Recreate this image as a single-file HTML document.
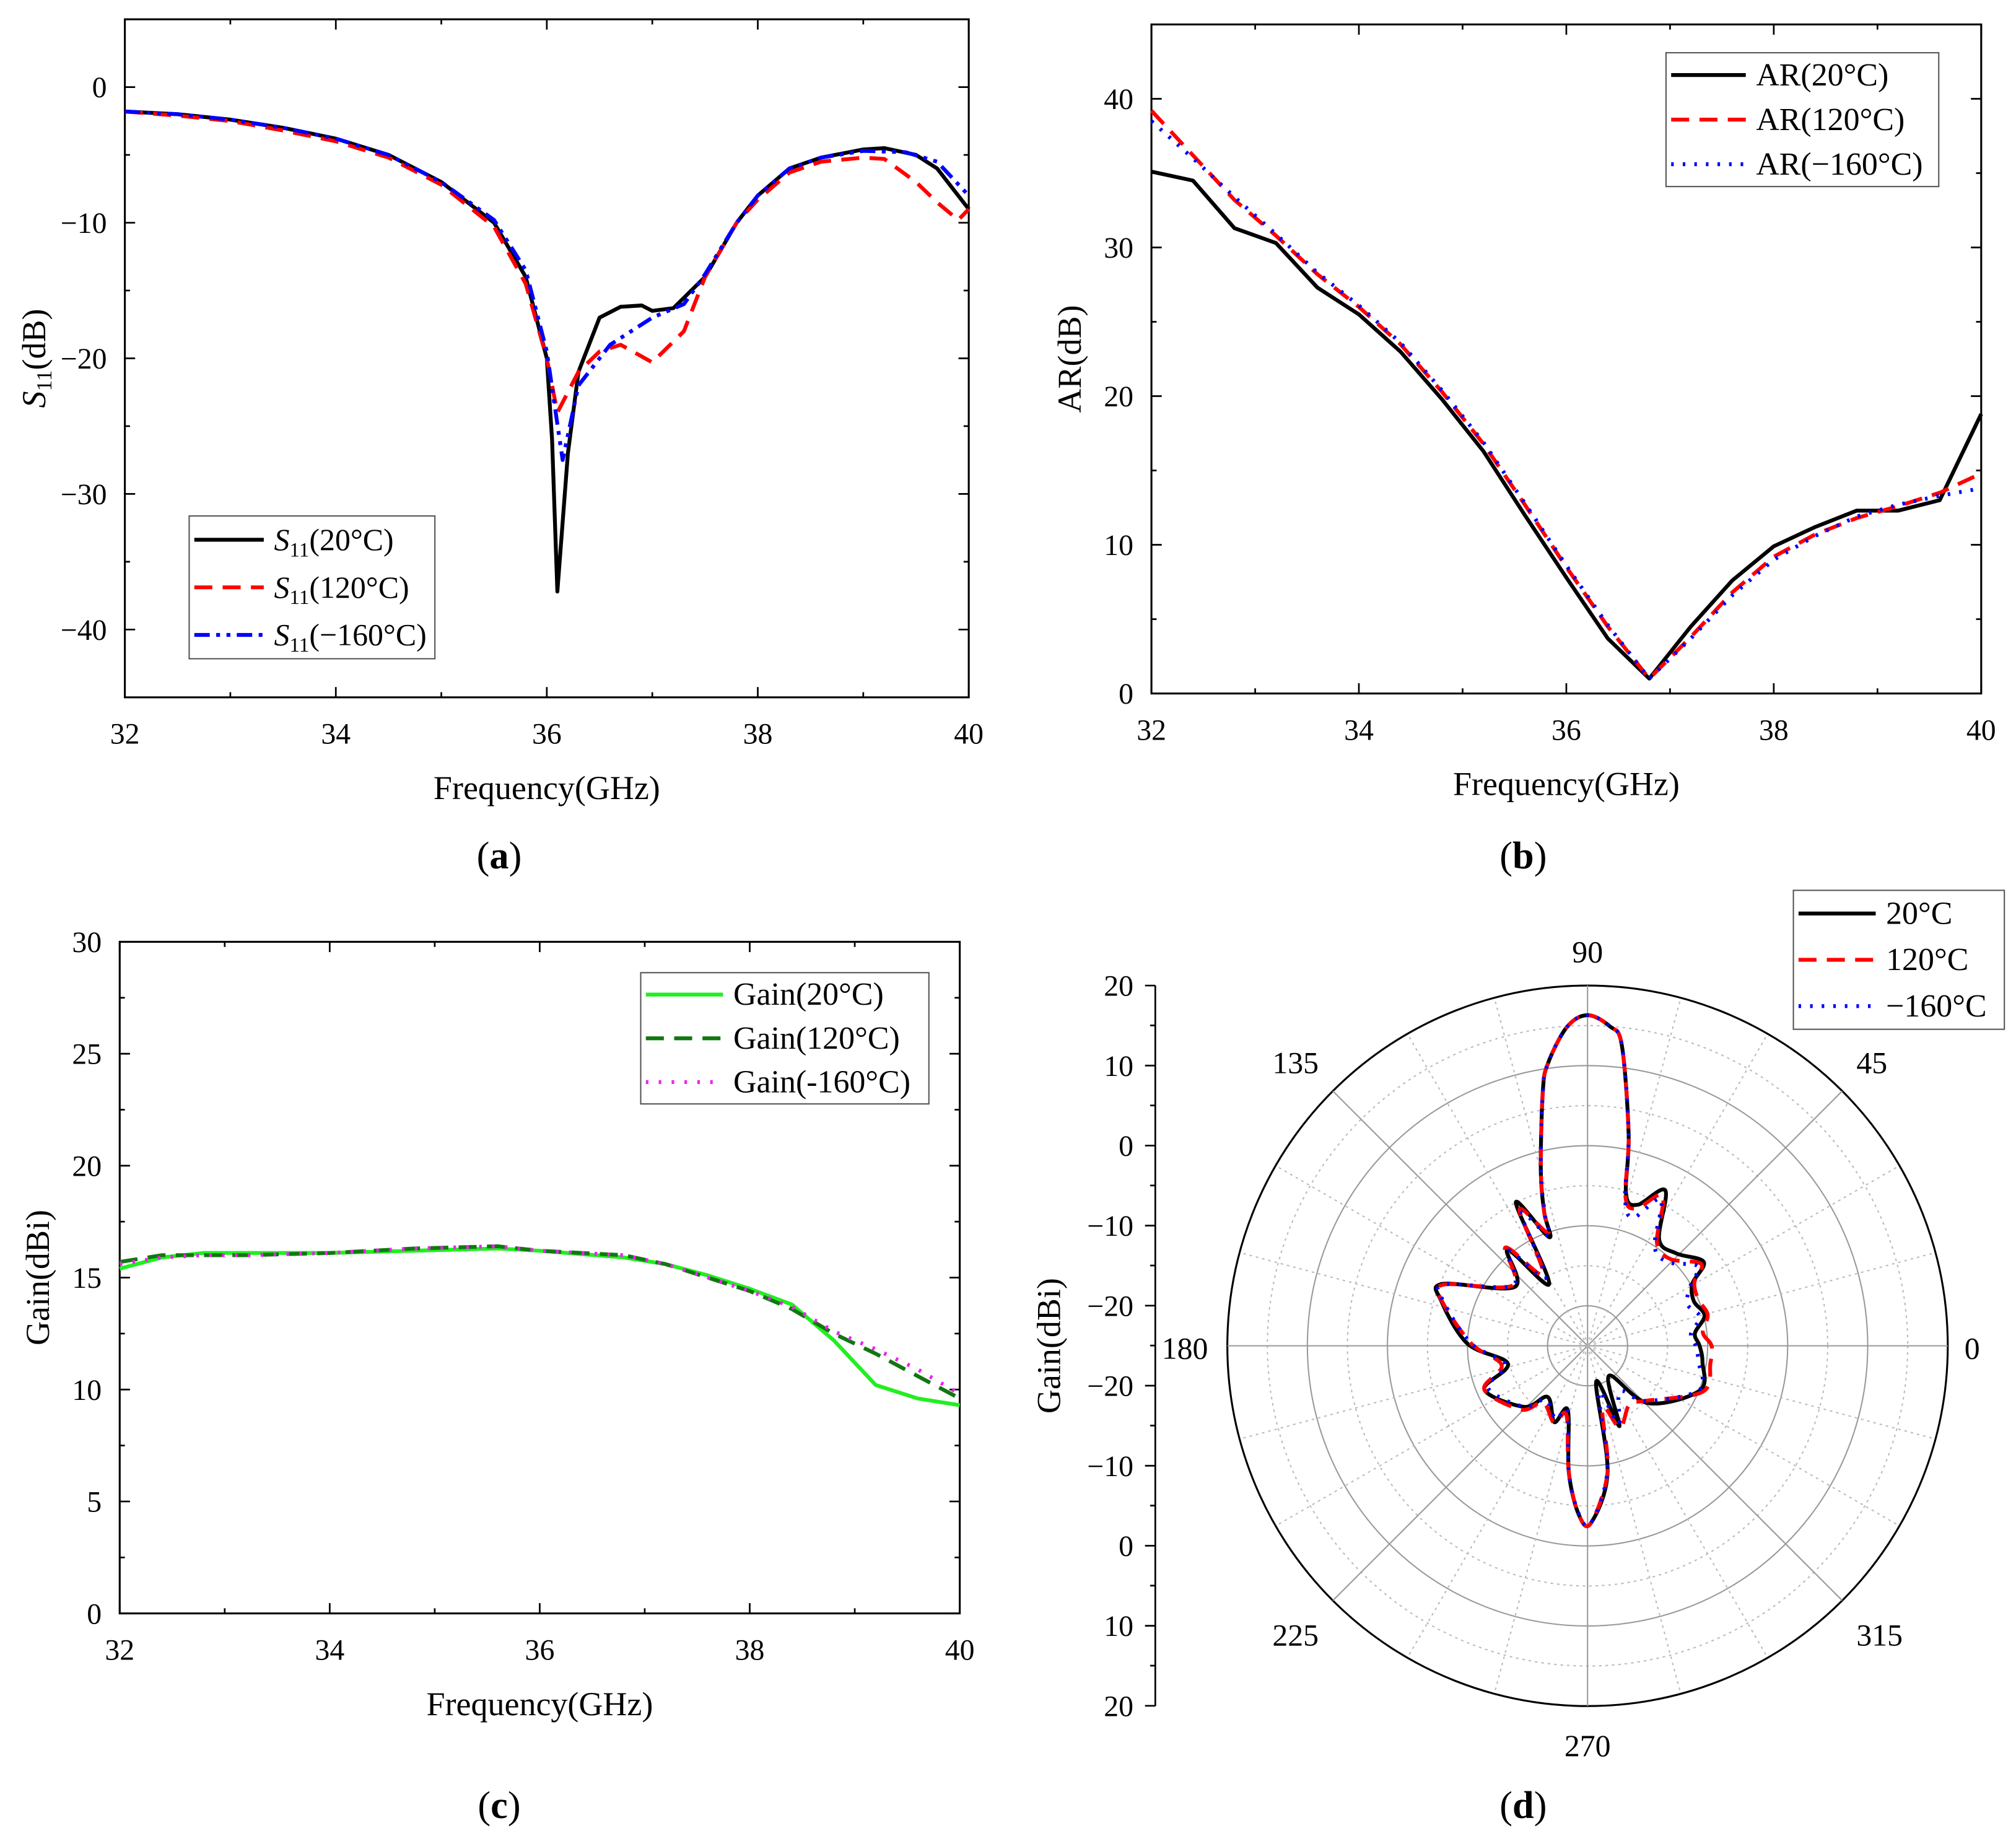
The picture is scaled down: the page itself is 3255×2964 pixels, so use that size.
<!DOCTYPE html>
<html><head><meta charset="utf-8"><style>
html,body{margin:0;padding:0;background:#fff}
svg{display:block;font-family:"Liberation Serif",serif}
</style></head><body>
<svg id="fig" width="3255" height="2964" viewBox="0 0 1567 1427" xmlns="http://www.w3.org/2000/svg"></svg>
<script>
// ---------- data ----------
const s11X20=[32,32.5,33,33.5,34,34.5,35,35.5,35.8,36,36.05,36.1,36.2,36.3,36.5,36.7,36.9,37,37.2,37.5,37.8,38,38.3,38.6,39,39.2,39.5,39.7,40];
const s11Y20=[-1.8,-2,-2.4,-3,-3.8,-5,-7,-10,-14,-20,-26,-37.2,-27,-21,-17,-16.2,-16.1,-16.5,-16.3,-14,-10,-8,-6,-5.2,-4.6,-4.5,-5,-6,-9];
const s11X120=[32,32.5,33,33.5,34,34.5,35,35.5,35.8,36,36.1,36.3,36.5,36.7,37,37.3,37.5,37.8,38,38.3,38.6,39,39.2,39.5,39.7,39.9,40];
const s11Y120=[-1.8,-2.1,-2.5,-3.2,-4,-5.2,-7.2,-10.3,-14.5,-20,-24,-21,-19.5,-19,-20.3,-18,-14,-10,-8.3,-6.3,-5.5,-5.2,-5.3,-7,-8.5,-9.8,-9];
const s11X160=[32,32.5,33,33.5,34,34.5,35,35.5,35.8,36,36.15,36.3,36.6,37,37.3,37.5,37.8,38,38.3,38.6,39,39.4,39.7,40];
const s11Y160=[-1.8,-2,-2.4,-3,-3.8,-5,-7,-9.8,-13.5,-19.5,-27.5,-22,-19,-17,-16,-13.8,-10,-8,-6,-5.2,-4.7,-4.8,-5.5,-8];
const arX=[32,32.4,32.8,33.2,33.6,34,34.4,34.8,35.2,35.6,36,36.4,36.8,37.2,37.6,38,38.4,38.8,39.2,39.6,40];
const ar20=[35.1,34.5,31.3,30.3,27.3,25.5,23,19.8,16.3,12,7.8,3.7,1,4.5,7.6,9.9,11.2,12.3,12.3,13,18.8];
const ar120=[39.2,36.2,33.2,30.8,28.2,26,23.5,20.3,16.8,12.7,8.5,4.5,1,3.8,6.8,9.2,10.7,11.8,12.6,13.5,14.8];
const ar160=[38.5,36,33.4,30.9,28.3,26.1,23.6,20.4,16.9,12.8,8.6,4.6,1,3.7,6.6,9,10.6,11.9,12.7,13.3,13.8];
const gX=[32,32.4,32.8,33.2,34,34.8,35.6,36,36.8,37.2,37.6,38,38.4,38.8,39.2,39.6,40];
const g20=[15.4,15.9,16.1,16.1,16.1,16.2,16.3,16.2,15.9,15.6,15.1,14.5,13.8,12.2,10.2,9.6,9.3];
const g120=[15.7,16,16,16,16.1,16.3,16.4,16.2,16,15.6,15,14.4,13.6,12.5,11.6,10.6,9.6];
const g160=[15.6,15.9,16,16,16.1,16.3,16.4,16.2,16,15.6,15,14.4,13.7,12.6,11.8,10.9,9.8];
const polAng=[0,6.6,14.5,22.8,30.6,35.8,46.2,56,63.4,70.4,75.7,79,83.5,86,90,93.7,98,100,104.9,108,109.5,116.6,121.8,129.8,141,156.9,163,179,192.7,203,223.9,232,246.5,252.9,261.6,267,271,279,283.6,291.6,305.5,316.5,338.3,352];
const pol20=[-11,-11.5,-9.9,-10.6,-9.8,-7.1,-9,-9,-3.3,-6.3,-5.5,1.9,12.8,15,16.3,14.9,10.6,7.2,-2.3,-7.5,-10.6,-5,-15.9,-9.4,-13.3,-5.3,-5.9,-10,-14.8,-11,-14,-16.9,-14.6,-16.6,-9,-3.9,-2.8,-9,-20.4,-14.2,-20.4,-14.6,-9.9,-10.5];
const pol120=[-9.5,-10.5,-9.5,-10,-9.5,-7.5,-10,-9.5,-4,-6.8,-5.8,1.9,12.8,15,16.3,14.9,10.6,7.2,-2.3,-7.5,-10,-6,-14.5,-9,-13,-5.5,-6,-10.5,-14,-11,-13.5,-16,-14.5,-16,-9,-3.9,-2.8,-9,-17,-14,-16,-15,-9.5,-9.5];
const pol160=[-11.5,-12,-10.5,-11.5,-10,-8,-10.5,-10,-4.5,-8,-6,1.9,12.8,15,16.3,14.9,10.6,7.2,-2.3,-7.8,-10.5,-6.5,-15,-9.5,-13,-5.5,-6.2,-10.5,-14.5,-11.5,-14,-16.5,-15,-16.5,-9,-4,-2.8,-9.2,-19,-14.5,-18,-15,-10,-11];

const NS="http://www.w3.org/2000/svg";
const svg=document.getElementById('fig');
function mk(tag,attrs,parent,text){const e=document.createElementNS(NS,tag);for(const k in attrs)e.setAttribute(k,attrs[k]);if(text!==undefined)e.textContent=text;(parent||svg).appendChild(e);return e;}

function cart(o){
  const g=mk('g',{});
  
  
  const sx=v=>o.x0+(v-32)/8*(o.x1-o.x0);
  const sy=v=>o.y1-(v-o.ymin)/(o.ymax-o.ymin)*(o.y1-o.y0);
  const box=mk('rect',{x:o.x0,y:o.y0,width:o.x1-o.x0,height:o.y1-o.y0,fill:'none',stroke:'#000','stroke-width':1.5},g);
  
  
  for(let v=32;v<=40;v+=1){const x=sx(v);const L=v%2===0?8:4;
    mk('line',{x1:x,y1:o.y1,x2:x,y2:o.y1-L,stroke:'#000','stroke-width':1.3},g);
    mk('line',{x1:x,y1:o.y0,x2:x,y2:o.y0+L,stroke:'#000','stroke-width':1.3},g);
    if(v%2===0){const t=mk('text',{x:x,y:o.y1+36,'text-anchor':'middle','font-size':23},g,String(v));
      }}
  for(let v=o.tmin;v<=o.tmax+1e-9;v+=o.minor){const y=sy(v);const major=Math.abs((v-o.tmin)%o.major)<1e-6;const L=major?8:4;
    mk('line',{x1:o.x0,y1:y,x2:o.x0+L,y2:y,stroke:'#000','stroke-width':1.3},g);
    mk('line',{x1:o.x1,y1:y,x2:o.x1-L,y2:y,stroke:'#000','stroke-width':1.3},g);
    if(major){const t=mk('text',{x:o.x0-14,y:y+8,'text-anchor':'end','font-size':23},g,String(v).replace('-','\u2212'));
      }}
  const xt=mk('text',{x:(o.x0+o.x1)/2,y:o.y1+79,'text-anchor':'middle','font-size':26},g,'Frequency(GHz)');
  
  const yt=mk('text',{transform:`translate(${o.ytx},${(o.y0+o.y1)/2}) rotate(-90)`,'text-anchor':'middle','font-size':26},g);
  yt.innerHTML=o.ytitle;
  
  o.series.forEach(s=>{
    const pts=s.x.map((v,i)=>sx(v)+','+sy(s.y[i])).join(' ');
    const p=mk('polyline',{points:pts,fill:'none',stroke:s.color,'stroke-width':s.w||3,'stroke-dasharray':s.dash||'none','stroke-linejoin':'round'},g);
    
  });
  legend(g,o.leg,o.series);
}
function legend(g,L,series){
  const lg=mk('g',{},g);
  
  mk('rect',{x:L.x,y:L.y,width:L.w,height:L.h,fill:'#fff',stroke:'#555','stroke-width':1},lg);
  const step=L.h/series.length;
  series.forEach((s,i)=>{const cy=L.y+step*(i+0.5);
    const e=mk('g',{},lg);
    
    mk('line',{x1:L.x+4,y1:cy,x2:L.x+L.lw,y2:cy,stroke:s.color,'stroke-width':s.w||3,'stroke-dasharray':s.dash||'none'},e);
    const t=mk('text',{x:L.x+L.lw+8,y:cy+8,'font-size':L.fs||25},e);t.innerHTML=s.label;});
}
const S=(t)=>`<tspan font-style="italic">S</tspan><tspan font-size="16" dy="5">11</tspan><tspan dy="-5">${t}</tspan>`;
cart({name:'panel-a-s11',x0:97,x1:753,y0:15,y1:542,ymin:-45,ymax:5,tmin:-40,tmax:0,major:10,minor:5,ytx:35,
  ytitle:'<tspan font-style="italic">S</tspan><tspan font-size="17" dy="5">11</tspan><tspan dy="-5">(dB)</tspan>',
  leg:{x:147,y:401,w:191,h:111,lw:58,fs:24},
  series:[{name:'s11-20c-line',x:s11X20,y:s11Y20,color:'#000',label:S('(20°C)')},
    {name:'s11-120c-line',x:s11X120,y:s11Y120,color:'#f00',dash:'14,8',label:S('(120°C)')},
    {name:'s11-minus160c-line',x:s11X160,y:s11Y160,color:'#00f',dash:'12,5,3,5,3,5',label:S('(\u2212160°C)')}]});
cart({name:'panel-b-ar',x0:895,x1:1540,y0:19,y1:539,ymin:0,ymax:45,tmin:0,tmax:45,major:10,minor:5,ytx:840,
  ytitle:'AR(dB)',leg:{x:1295,y:41,w:212,h:104,lw:62},
  series:[{name:'ar-20c-line',x:arX,y:ar20,color:'#000',label:'AR(20°C)'},
    {name:'ar-120c-line',x:arX,y:ar120,color:'#f00',dash:'14,8',label:'AR(120°C)'},
    {name:'ar-minus160c-line',x:arX,y:ar160,color:'#00f',dash:'2,7',label:'AR(\u2212160°C)'}]});
cart({name:'panel-c-gain',x0:93,x1:746,y0:732,y1:1254,ymin:0,ymax:30,tmin:0,tmax:30,major:5,minor:2.5,ytx:38,
  ytitle:'Gain(dBi)',leg:{x:498,y:756,w:224,h:102,lw:64},
  series:[{name:'gain-20c-line',x:gX,y:g20,color:'#22ee22',label:'Gain(20°C)'},
    {name:'gain-120c-line',x:gX,y:g120,color:'#117711',dash:'14,8',label:'Gain(120°C)'},
    {name:'gain-minus160c-line',x:gX,y:g160,color:'#ee22ee',dash:'2,8',label:'Gain(-160°C)'}]});
// ---------- polar ----------
(function(){
  const cx=1234,cy=1046,R=280,gmin=-25,gmax=20;
  const rr=v=>(v-gmin)/(gmax-gmin)*R;
  const g=mk('g',{});
  
  for(let v=-20;v<=20;v+=5){const solid=v%10===0;
    mk('circle',{cx,cy,r:rr(v),fill:'none',stroke:solid?(v===20?'#000':'#999'):'#bbb','stroke-width':v===20?1.5:1,'stroke-dasharray':solid?'none':'2,3'},g);}
  for(let a=0;a<360;a+=15){const rad=a*Math.PI/180;const solid=a%45===0;
    mk('line',{x1:cx,y1:cy,x2:cx+R*Math.cos(rad),y2:cy-R*Math.sin(rad),stroke:solid?'#999':'#bbb','stroke-width':1,'stroke-dasharray':solid?'none':'2,3'},g);}
  const labs=[[0,1533,1056],[45,1455,834],[90,1234,748],[135,1007,834],[180,921,1056],[225,1007,1279],[270,1234,1365],[315,1461,1279]];
  labs.forEach(l=>{const t=mk('text',{x:l[1],y:l[2],'text-anchor':'middle','font-size':24},g,String(l[0]));
    });
  mk('line',{x1:898,y1:766,x2:898,y2:1326,stroke:'#000','stroke-width':1.3},g);
  const rl=[20,10,0,-10,-20,-20,-10,0,10,20];
  rl.forEach((v,i)=>{const y=766+i*62.2;
    mk('line',{x1:898,y1:y,x2:890,y2:y,stroke:'#000','stroke-width':1.3},g);
    if(i<9)mk('line',{x1:898,y1:y+31,x2:894,y2:y+31,stroke:'#000','stroke-width':1.3},g);
    const t=mk('text',{x:881,y:y+8,'text-anchor':'end','font-size':23},g,String(v).replace('-','\u2212'));
    });
  const yt=mk('text',{transform:'translate(824,1046) rotate(-90)','text-anchor':'middle','font-size':26},g,'Gain(dBi)');
  
  const series=[{name:'pattern-20c-line',v:pol20,color:'#000',label:'20°C'},
    {name:'pattern-120c-line',v:pol120,color:'#f00',dash:'14,8',label:'120°C'},
    {name:'pattern-minus160c-line',v:pol160,color:'#00f',dash:'2,7',label:'\u2212160°C'}];
  series.forEach(s=>{
    const P=polAng.map((a,i)=>{const rad=a*Math.PI/180,r=rr(s.v[i]);return [cx+r*Math.cos(rad),cy-r*Math.sin(rad)];});
    const n=P.length;let d='M'+P[0][0].toFixed(2)+','+P[0][1].toFixed(2);
    for(let i=0;i<n;i++){const p0=P[(i-1+n)%n],p1=P[i],p2=P[(i+1)%n],p3=P[(i+2)%n];
      const c1=[p1[0]+(p2[0]-p0[0])/6,p1[1]+(p2[1]-p0[1])/6],c2=[p2[0]-(p3[0]-p1[0])/6,p2[1]-(p3[1]-p1[1])/6];
      d+=` C${c1[0].toFixed(2)},${c1[1].toFixed(2)} ${c2[0].toFixed(2)},${c2[1].toFixed(2)} ${p2[0].toFixed(2)},${p2[1].toFixed(2)}`;}
    const p=mk('path',{d:d+'Z',fill:'none',stroke:s.color,'stroke-width':3,'stroke-dasharray':s.dash||'none','stroke-linejoin':'round'},g);
    
  });
  legend(g,{x:1394,y:692,w:164,h:108,lw:64},series);
})();
// captions
[['a',388,675],['b',1184,675],['c',388,1413],['d',1184,1413]].forEach(c=>{
  const t=mk('text',{x:c[1],y:c[2],'text-anchor':'middle','font-size':30},svg);
  t.innerHTML=`(<tspan font-weight="bold">${c[0]}</tspan>)`;
  
});
</script>
</body></html>
